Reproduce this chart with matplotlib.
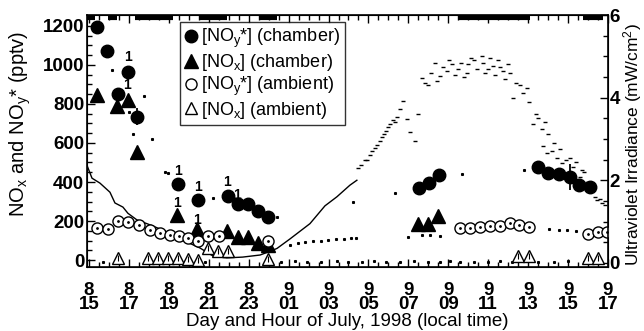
"""Chamber vs ambient NOx / NOy* with UV irradiance, July 1998."""
import matplotlib
matplotlib.use("Agg")
import matplotlib.pyplot as plt
from matplotlib.ticker import MultipleLocator, FixedLocator
from matplotlib.transforms import blended_transform_factory

plt.rcParams["font.family"] = ["Liberation Sans", "DejaVu Sans"]
plt.rcParams["mathtext.default"] = "regular"

# x is hours after day 8, 15:00 local time
XTICK_DAY = ["8", "8", "8", "8", "8", "9", "9", "9", "9", "9", "9", "9", "9", "9"]
XTICK_HOUR = ["15", "17", "19", "21", "23", "01", "03", "05", "07", "09",
              "11", "13", "15", "17"]

# [NOy*] chamber (filled circles), pptv
NOY_CH_X = [0.4, 0.9, 1.95, 1.45, 2.4, 4.46, 5.46, 6.96, 7.46, 7.97, 8.47, 8.97,
            16.53, 17.03, 17.53, 22.48, 23.0, 23.55, 24.1, 24.55, 25.1]
NOY_CH_Y = [1195, 1070, 965, 850, 735, 390, 310, 330, 285, 285, 250, 220,
            370, 395, 435, 475, 445, 440, 425, 385, 375]
NOY_CH_ERR = [0, 0, 0, 0, 45, 0, 0, 0, 0, 0, 0, 0,
              0, 0, 0, 0, 0, 0, 65, 0, 0]

# [NOx] chamber (filled triangles)
NOX_CH_X = [0.4, 1.4, 1.95, 2.4, 4.4, 5.4, 6.9, 7.46, 7.97, 8.47, 8.97,
            16.5, 17.0, 17.5]
NOX_CH_Y = [845, 790, 820, 555, 230, 160, 150, 120, 120, 90, 78,
            185, 185, 225]

# [NOy*] ambient (open circles)
NOY_AM_X = [0.4, 0.95, 1.45, 1.95, 2.5, 3.05, 3.55, 4.05, 4.5, 4.95, 5.45,
            5.95, 6.5, 8.95,
            18.6, 19.1, 19.6, 20.1, 20.6, 21.1, 21.55, 22.05,
            25.0, 25.5, 25.95]
NOY_AM_Y = [167, 157, 200, 194, 178, 156, 139, 128, 122, 111, 100,
            122, 122, 100,
            163, 167, 170, 176, 176, 189, 182, 170,
            133, 144, 144]

# [NOx] ambient (open triangles)
NOX_AM_X = [1.45, 2.95, 3.45, 3.95, 4.45, 4.95, 5.45, 5.95, 6.45, 6.95, 8.95,
            21.5, 22.05, 25.0, 25.5]
NOX_AM_Y = [10, 10, 10, 10, 10, 5, 0, 60, 45, 45, 5,
            20, 20, 10, 10]

# labelled points ("1")
ONE_X = [1.95, 1.9, 4.45, 5.45, 6.9, 7.4, 4.4, 5.4]
ONE_Y = [1040, 895, 455, 375, 400, 335, 295, 205]

# raw single measurements (small dots), pptv
RAW_X = [1.15, 2.0, 2.2, 3.15, 2.75, 3.95, 3.8, 6.2, 9.4,
         10.05, 10.45, 10.8, 11.2, 11.6, 11.95, 12.35, 12.75, 13.15, 13.4,
         13.25, 15.35, 16.0, 16.7, 17.1, 17.6, 18.7, 21.8,
         23.05, 23.55, 23.95, 24.4,
         0.7, 5.8, 9.6, 10.3, 10.9, 11.6, 12.4, 13.0, 13.7, 14.3, 14.9,
         15.6, 16.3, 17.0, 17.6, 18.1, 18.6, 19.3, 20.0, 20.6, 21.2, 22.5,
         23.3, 24.0, 24.8]
RAW_Y = [975, 760, 645, 620, 840, 445, 450, 320, 220,
         80, 90, 92, 96, 100, 103, 106, 110, 113, 115,
         300, 345, 118, 128, 130, 125, 440, 460,
         160, 155, 152, 150,
         -8, -8, -8, -5, -10, -8, -5, -8, -10, -5, -8,
         -8, -5, -10, -8, -5, -8, -10, -8, -5, -8, -8,
         -8, -5, -8]

# UV irradiance, continuous record (mW/cm2)
UV_X = [-0.1, 0.15, 0.55, 1.05, 1.3, 1.7, 1.95, 2.4, 3.06, 3.9, 4.7, 5.56,
        6.2, 6.9, 7.7, 8.57, 9.07, 9.42, 10.07, 11.07, 11.82, 12.42, 13.07,
        13.42]
UV_Y = [2.36, 2.05, 1.93, 1.71, 1.45, 1.35, 1.2, 1.04, 0.92, 0.75, 0.55, 0.36,
        0.17, 0.12, 0.14, 0.19, 0.28, 0.35, 0.58, 0.95, 1.38, 1.6, 1.88,
        2.0]
# UV irradiance, scattered readings
UV_SX = [13.47, 13.65, 13.83, 13.95, 14.08, 14.2, 14.33, 14.45, 14.58, 14.68,
         14.78, 14.88, 14.98, 15.1, 15.23, 15.33, 15.43, 15.58, 15.73,
         15.93, 16.08, 16.33, 16.5, 16.68, 16.85, 17.0, 17.15, 17.33, 17.45,
         17.58, 17.75, 17.94, 18.05, 18.19, 18.35, 18.49, 18.65, 18.8, 18.94,
         18.99, 19.15, 19.3, 19.45, 19.69, 19.74, 19.85, 20.0, 20.1, 20.24,
         20.35, 20.5, 20.6, 20.74, 20.85, 20.99, 21.1, 21.24, 21.4, 21.6,
         21.75, 21.94, 22.05, 22.24, 22.4, 22.5, 22.7, 22.85, 23.0, 22.75,
         22.95, 23.2, 23.3, 23.45, 23.6, 23.7, 23.9, 24.1, 24.25, 24.4,
         24.6, 24.7, 24.8, 24.95, 25.1, 25.2, 25.35, 25.45, 25.6, 25.7,
         25.85]
UV_SY = [2.29, 2.38, 2.48, 2.5, 2.6, 2.7, 2.77, 2.85, 2.96, 3.05,
         3.13, 3.2, 3.28, 3.35, 3.45, 3.4, 3.52, 3.73, 3.93,
         3.49, 3.16, 2.96, 3.6, 4.48, 4.35, 4.3, 4.6, 4.84, 4.4,
         4.53, 4.75, 4.65, 4.9, 4.82, 4.55, 4.7, 4.85, 4.5, 4.6,
         4.82, 4.95, 4.9, 4.7, 5.01, 4.84, 4.6, 4.7, 4.95, 4.77,
         4.55, 4.9, 4.75, 4.65, 4.45, 4.82, 4.6, 4.0, 4.35, 4.3,
         4.1, 4.24, 3.9, 3.37, 3.6, 3.5, 3.25, 3.4, 3.13, 2.84,
         2.65, 2.7, 2.9, 2.55, 2.75, 2.41, 2.5, 2.55, 2.31, 2.45,
         2.07, 2.25, 2.2, 1.95, 1.85, 1.75, 1.6, 1.52, 1.55, 1.45,
         1.4]

# black bars along the top frame (hours)
BAR_START = [-0.1, 0.95, 2.3, 5.56, 8.57, 18.5, 24.75]
BAR_END = [0.3, 1.4, 4.2, 6.9, 9.42, 22.1, 25.75]


def main():
    fig = plt.figure(figsize=(6.44, 3.31), dpi=100)
    ax = fig.add_axes([87 / 644, 64 / 331, 521 / 644, 252 / 331])
    ax2 = ax.twinx()
    ax.set_zorder(2)
    ax.patch.set_visible(False)

    # irradiance on the right axis
    ax2.plot(UV_X, UV_Y, color="black", lw=1.0)
    ax2.plot(UV_SX, UV_SY, ls="none", marker="_", ms=3.5, mew=1.0,
             color="black")
    ax2.set_ylim(-0.1, 6.0)
    ax2.yaxis.set_major_locator(MultipleLocator(2))
    ax2.yaxis.set_minor_locator(MultipleLocator(0.5))
    ax2.tick_params(axis="y", which="both", direction="in", labelsize=13.5,
                    pad=1)
    ax2.tick_params(axis="y", which="major", length=6, width=1)
    ax2.tick_params(axis="y", which="minor", length=3.5, width=1)
    for t in ax2.get_yticklabels():
        t.set_fontweight("bold")

    # raw dots
    ax.plot(RAW_X, RAW_Y, ls="none", marker="s", ms=1.2, color="black")

    h1, = ax.plot(NOY_CH_X, NOY_CH_Y, ls="none", marker="o", ms=9,
                  color="black", label="[NO$_y$*] (chamber)")
    ax.errorbar(NOY_CH_X, NOY_CH_Y, yerr=NOY_CH_ERR, fmt="none",
                ecolor="black", elinewidth=1.3, capsize=0)
    h2, = ax.plot(NOX_CH_X, NOX_CH_Y, ls="none", marker="^", ms=10,
                  color="black", label="[NO$_x$] (chamber)")
    h3, = ax.plot(NOY_AM_X, NOY_AM_Y, ls="none", marker="o", ms=8, mfc="white",
                  mec="black", mew=1.0, label="[NO$_y$*] (ambient)")
    ax.plot(NOY_AM_X, NOY_AM_Y, ls="none", marker=".", ms=2, color="black")
    h4, = ax.plot(NOX_AM_X, NOX_AM_Y, ls="none", marker="^", ms=9, mfc="white",
                  mec="black", mew=1.0, label="[NO$_x$] (ambient)")
    ax.plot(NOX_AM_X, NOX_AM_Y, ls="none", marker="|", ms=5, color="black",
            mew=0.8)

    for x, y in zip(ONE_X, ONE_Y):
        ax.text(x, y, "1", fontsize=10, fontweight="bold", ha="center",
                va="center")

    trans = blended_transform_factory(ax.transData, ax.transAxes)
    ax.hlines([0.99] * len(BAR_START), BAR_START, BAR_END, colors="black",
              lw=3.0, transform=trans)

    ax.set_xlim(-0.1, 26)
    ax.set_ylim(-35, 1255)
    ax.xaxis.set_major_locator(FixedLocator(range(0, 27, 2)))
    ax.xaxis.set_minor_locator(MultipleLocator(0.5))
    ax.set_xticklabels([f"{d}\n{h}" for d, h in zip(XTICK_DAY, XTICK_HOUR)],
                       fontsize=13.5, fontweight="bold", linespacing=0.72)
    ax.yaxis.set_major_locator(MultipleLocator(200))
    ax.yaxis.set_minor_locator(MultipleLocator(50))
    ax.tick_params(axis="both", which="both", direction="in", top=True)
    ax.tick_params(axis="x", which="both", pad=11)
    ax.tick_params(axis="y", which="both", labelsize=13.5, pad=2)
    ax.tick_params(which="major", length=6, width=1)
    ax.tick_params(which="minor", length=3.5, width=1)
    for t in ax.get_yticklabels():
        t.set_fontweight("bold")
    for s in ax.spines.values():
        s.set_linewidth(1.2)

    ax.set_xlabel("Day and Hour of July, 1998 (local time)", fontsize=13.5,
                  labelpad=0)
    fig.text(20 / 644, 1 - 124 / 331, "NO$_x$ and NO$_y$* (pptv)",
             fontsize=14.5, rotation=90, ha="center", va="center")
    fig.text(633 / 644, 1 - 145 / 331, "Ultraviolet Irradiance (mW/cm$^2$)",
             fontsize=12.5, rotation=90, ha="center", va="center")

    leg = ax.legend([h1, h2, h3, h4], [h.get_label() for h in (h1, h2, h3, h4)],
                    loc="upper left", bbox_to_anchor=(0.178, 0.971),
                    fontsize=13, frameon=True, fancybox=False,
                    handlelength=0.7, handletextpad=0.25, borderpad=0.25,
                    labelspacing=0.1, borderaxespad=0)
    leg.get_frame().set_edgecolor("black")
    leg.get_frame().set_linewidth(1.0)

    fig.savefig("out.png", dpi=100)


if __name__ == "__main__":
    main()
